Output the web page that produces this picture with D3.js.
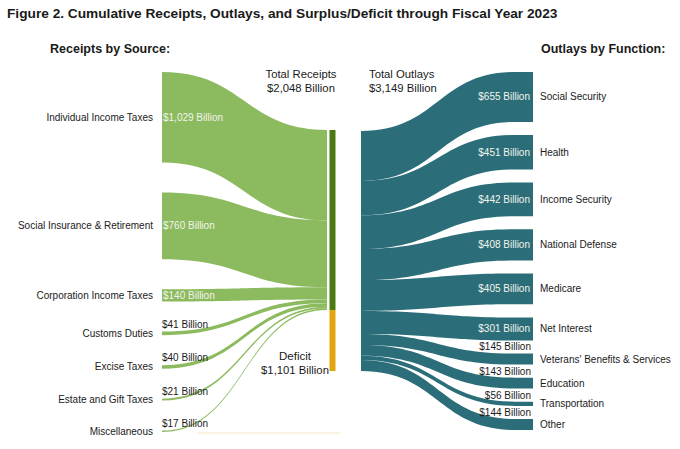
<!DOCTYPE html>
<html>
<head>
<meta charset="utf-8">
<script src="https://cdn.jsdelivr.net/npm/d3@7"></script>
<style>
    body { margin: 0; background: #fff; }
    svg { display: block; font-family: "Liberation Sans", Arial, sans-serif; }
</style>
</head>
<body>
<svg id="sankey_svg" width="680" height="449"></svg>
<script>
// values (billions of dollars)
const receiptSources = ["Individual Income Taxes", "Social Insurance & Retirement", "Corporation Income Taxes",
    "Customs Duties", "Excise Taxes", "Estate and Gift Taxes", "Miscellaneous"]
const receiptValues = [1029, 760, 140, 41, 40, 21, 17]

const outlayFunctions = ["Social Security", "Health", "Income Security", "National Defense", "Medicare",
    "Net Interest", "Veterans' Benefits & Services", "Education", "Transportation", "Other"]
const outlayValues = [655, 451, 442, 408, 405, 301, 145, 143, 56, 144]

const totalReceipts = 2048
const totalOutlays = 3149
const deficit = 1101

const title = "Figure 2. Cumulative Receipts, Outlays, and Surplus/Deficit through Fiscal Year 2023"

/**
 * Layout of the three columns.
 */
const left = { x0: 162, x1: 327, top: 72, bottom: 432 }
const mid = { x0: 329.5, x1: 335.5, top: 130, outTop: 131 }
const right = { x0: 361, curveEnd: 515, x1: 533, top: 72, bottom: 430 }

const colors = {
    receipt: "#8cba5e",
    receiptBar: "#4b7a12",
    deficit: "#e2a50e",
    outlay: "#2b6e79",
    text: "#1a1a1a",
    inside: "#f2f4ec",
}

const fmt = v => "$" + d3.format(",")(v) + " Billion"

/**
 * Scales for band thickness.
 */
const receiptScale = d3.scaleLinear().domain([0, totalReceipts]).range([0, 180])
const outlayScale = d3.scaleLinear().domain([0, totalOutlays]).range([0, 240])

let svg = d3.select("#sankey_svg")

// receipts nodes
const gapL = (left.bottom - left.top - d3.sum(receiptValues, receiptScale)) / (receiptValues.length - 1)
let yL = left.top, yC = mid.top
const receiptNodes = receiptValues.map((v, i) => {
    const w = receiptScale(v)
    const n = { name: receiptSources[i], value: v, w: w, y0: yL, c0: yC }
    yL += w + gapL
    yC += w
    return n
})
const receiptsBottom = yC

// outlay nodes
const gapR = (right.bottom - right.top - d3.sum(outlayValues, outlayScale)) / (outlayValues.length - 1)
let yR = right.top, yO = mid.outTop
const outlayNodes = outlayValues.map((v, i) => {
    const w = outlayScale(v)
    const n = { name: outlayFunctions[i], value: v, w: w, y0: yR, c0: yO }
    yR += w + gapR
    yO += w
    return n
})
const outlaysBottom = yO

const band = d3.area()
    .curve(d3.curveBumpX)
    .x(d => d[0])
    .y0(d => d[1])
    .y1(d => d[1] + d[2])

/**
 * Faint deficit trace along the bottom.
 */
svg.append("line")
    .attr("x1", 197).attr("x2", 340)
    .attr("y1", left.bottom + 1).attr("y2", left.bottom + 1)
    .attr("stroke", colors.deficit)
    .attr("stroke-opacity", 0.18)
    .attr("stroke-width", 1.5)

/**
 * Receipt flows
 */
svg.append("g")
    .selectAll("path")
    .data(receiptNodes)
    .enter()
    .append("path")
    .attr("d", d => band([[left.x0, d.y0, d.w], [left.x1, d.c0, d.w]]))
    .attr("fill", colors.receipt)

/**
 * Outlay flows
 */
svg.append("g")
    .selectAll("path")
    .data(outlayNodes)
    .enter()
    .append("path")
    .attr("d", d => band([[right.x0, d.c0, d.w], [right.curveEnd, d.y0, d.w], [right.x1, d.y0, d.w]]))
    .attr("fill", colors.outlay)

/**
 * Centre bars: receipts and deficit
 */
svg.append("rect")
    .attr("x", mid.x0).attr("width", mid.x1 - mid.x0)
    .attr("y", mid.top).attr("height", receiptsBottom - mid.top)
    .attr("fill", colors.receiptBar)

svg.append("rect")
    .attr("x", mid.x0).attr("width", mid.x1 - mid.x0)
    .attr("y", receiptsBottom).attr("height", outlaysBottom - receiptsBottom)
    .attr("fill", colors.deficit)

/**
 * Labels
 */
const txt = (x, y, s, size, anchor, weight, fill) =>
    svg.append("text")
        .attr("x", x).attr("y", y)
        .attr("font-size", size)
        .attr("text-anchor", anchor || "start")
        .attr("font-weight", weight || "normal")
        .attr("fill", fill || colors.text)
        .text(s)

txt(7, 18, title, 13.7, "start", "bold")
txt(50, 53, "Receipts by Source:", 12.5, "start", "bold")
txt(541, 53, "Outlays by Function:", 12.5, "start", "bold")

txt(301, 78, "Total Receipts", 11.3, "middle")
txt(301, 92, fmt(totalReceipts), 11.3, "middle")
txt(369, 78, "Total Outlays", 11.3, "start")
txt(369, 92, fmt(totalOutlays), 11.3, "start")
txt(295, 360, "Deficit", 11.5, "middle")
txt(295, 374, fmt(deficit), 11.3, "middle")

// receipt categories and values
receiptNodes.forEach(d => {
    txt(153, d.y0 + d.w / 2 + 3.5, d.name, 10, "end")
    if (d.value >= 100) {
        txt(left.x0 + 1, d.y0 + d.w / 2 + 3.5, fmt(d.value), 10, "start", "normal", colors.inside)
    } else {
        txt(left.x0, d.y0 - 4, fmt(d.value), 10, "start")
    }
})

// outlay functions and values
outlayNodes.forEach(d => {
    txt(540, d.y0 + d.w / 2 + 3.5, d.name, 10, "start")
    if (d.value >= 300) {
        txt(right.x1 - 3, d.y0 + d.w / 2 + 3.5, fmt(d.value), 10, "end", "normal", colors.inside)
    } else {
        txt(right.x1 - 2, d.y0 - 3, fmt(d.value), 10, "end")
    }
})
</script>
</body>
</html>
